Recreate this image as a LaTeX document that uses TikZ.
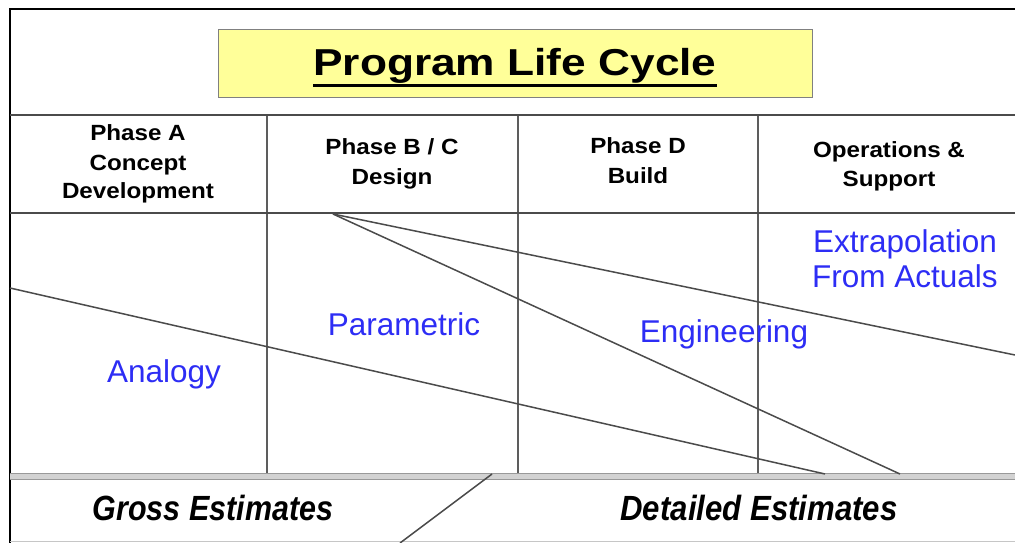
\documentclass[tikz,border=0pt]{standalone}
\usepackage{fontspec}
\setmainfont{Liberation Sans}
\usepackage{graphicx}
\definecolor{titleyellow}{RGB}{255,255,153}
\definecolor{methodblue}{RGB}{45,45,245}
\definecolor{linegray}{RGB}{75,75,75}
\newcommand{\widetext}[2]{\scalebox{#1}[1]{#2}}
\tikzset{
  frameline/.style={black, line width=2.5pt},
  headline/.style={linegray, line width=2.4pt},
  colline/.style={linegray!90, line width=1.3pt},
  diagline/.style={linegray, line width=1.5pt},
  headtext/.style={anchor=base, inner sep=0pt, font=\fontsize{22}{25}\selectfont\bfseries},
  methodtext/.style={anchor=base, inner sep=0pt, text=methodblue, font=\fontsize{31.5}{36}\selectfont},
  esttext/.style={anchor=base, inner sep=0pt, font=\fontsize{35}{40}\selectfont\bfseries\itshape},
}
\begin{document}
\begin{tikzpicture}[x=1pt,y=-1pt]
\useasboundingbox (0,0) rectangle (1015,543);
\fill[white] (0,0) rectangle (1015,543);

% title
\node[draw=gray, line width=1pt, fill=titleyellow, minimum width=594pt, minimum height=67pt, inner sep=0pt] (tbox) at (515,63.5) {};
\node[anchor=base, inner sep=0pt, font=\fontsize{37.5}{42}\selectfont\bfseries] (ttl) at (515,76) {\widetext{1.18}{Program Life Cycle}};
\draw[line width=2.4pt] ([yshift=-9.5pt]ttl.base west) -- ([yshift=-9.5pt]ttl.base east);

% frame
\draw[frameline] (1015,9) -- (10,9) -- (10,543);
\draw[gray!45, line width=1pt] (10,541.5) -- (1015,541.5);

% double separator
\draw[gray!35, line width=7pt] (10,476.3) -- (1015,476.3);
\draw[gray!80, line width=1.4pt] (10,473.3) -- (1015,473.3);
\draw[gray!80, line width=1.4pt] (10,479.2) -- (1015,479.2);

% column dividers
\draw[colline] (267,115) -- (267,473);
\draw[colline] (518,115) -- (518,473);
\draw[colline] (758,115) -- (758,473);

% header lines
\draw[headline] (10,115) -- (1015,115);
\draw[headline] (10,213) -- (1015,213);

% header texts
\node[headtext] (pa1) at (138,140) {\widetext{1.1}{Phase A}};
\node[headtext] (pa2) at (138,170) {\widetext{1.1}{Concept}};
\node[headtext] (pa3) at (138,198) {\widetext{1.1}{Development}};
\node[headtext] (pb1) at (392,154) {\widetext{1.1}{Phase B / C}};
\node[headtext] (pb2) at (392,184) {\widetext{1.1}{Design}};
\node[headtext] (pd1) at (638,153) {\widetext{1.1}{Phase D}};
\node[headtext] (pd2) at (638,183) {\widetext{1.1}{Build}};
\node[headtext] (po1) at (889,157) {\widetext{1.1}{Operations \&}};
\node[headtext] (po2) at (889,186) {\widetext{1.1}{Support}};

% diagonal boundaries
\coordinate (a1) at (10,288);
\coordinate (a2) at (825,474);
\coordinate (p0) at (333,214);
\coordinate (e1) at (1015,355);
\coordinate (e2) at (900,474);
\coordinate (g1) at (492,474);
\coordinate (g2) at (400,543);
\draw[diagline] (a1) -- (a2);
\draw[diagline] (p0) -- (e1);
\draw[diagline] (p0) -- (e2);
\draw[diagline] (g1) -- (g2);

% method labels
\node[methodtext] (analogy) at (164,382) {Analogy};
\node[methodtext] (param) at (404,335) {Parametric};
\node[methodtext] (eng) at (724,342) {Engineering};
\node[methodtext] (ext1) at (905,252) {Extrapolation};
\node[methodtext] (ext2) at (905,287) {From Actuals};

% estimates
\node[esttext] (gross) at (213,520) {\widetext{0.87}{Gross Estimates}};
\node[esttext] (detail) at (759,520) {\widetext{0.89}{Detailed Estimates}};
\end{tikzpicture}
\end{document}
